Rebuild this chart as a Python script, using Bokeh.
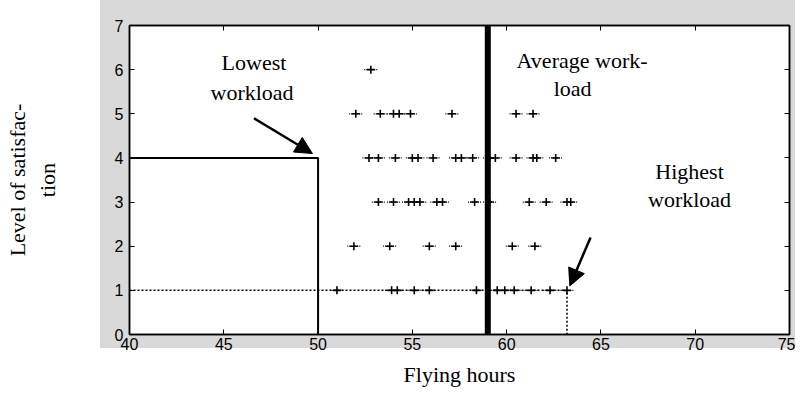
from bokeh.plotting import figure
from bokeh.models import (LinearAxis, FixedTicker, Range1d, Span, Arrow, NormalHead,
                          ColumnDataSource, CustomJSTickFormatter)
from bokeh.core.properties import value
from bokeh.embed import file_html
from bokeh.resources import INLINE

# ---------------- data ----------------
x_ticks = [40, 45, 50, 55, 60, 65, 70, 75]
y_ticks = [0, 1, 2, 3, 4, 5, 6, 7]

level_6_hours = [52.8]
level_5_hours = [52.0, 53.3, 54.0, 54.3, 54.9, 57.1, 60.5, 61.4]
level_4_hours = [52.7, 53.2, 54.1, 55.0, 55.3, 56.1, 57.3, 57.6, 58.2, 59.1, 59.4,
                 60.5, 61.4, 61.6, 62.6]
level_3_hours = [53.2, 54.0, 54.8, 55.1, 55.4, 56.3, 56.6, 58.3, 59.1, 61.2, 62.1,
                 63.2, 63.4]
level_2_hours = [51.9, 53.8, 55.9, 57.3, 60.3, 61.5]
level_1_hours = [51.0, 53.9, 54.2, 55.1, 55.9, 58.4, 59.5, 59.9, 60.4, 61.3, 62.3, 63.2]

average_workload_hours = 59.0
lowest_workload = (50.0, 4)     # (flying hours, satisfaction)
highest_workload = (63.2, 1)

rows = [(6, level_6_hours), (5, level_5_hours), (4, level_4_hours),
        (3, level_3_hours), (2, level_2_hours), (1, level_1_hours)]
hours, levels = [], []
for lv, hs in rows:
    hours += hs
    levels += [lv] * len(hs)

WHISK = 0.35
src = ColumnDataSource(dict(x=hours, y=levels,
                            x0=[h - WHISK for h in hours],
                            x1=[h + WHISK for h in hours]))

GREY = "#d9d9d9"
SERIF = "Liberation Serif"
SANS = "Liberation Sans"

p = figure(width=795, height=389,
           x_range=Range1d(x_ticks[0], x_ticks[-1]),
           y_range=Range1d(y_ticks[0], y_ticks[-1]),
           output_backend="svg", toolbar_location=None,
           min_border_left=129, min_border_right=6,
           min_border_top=25, min_border_bottom=55,
           border_fill_color=None, background_fill_color="white",
           outline_line_color="black", outline_line_width=1.5)
p.grid.visible = False
# grey scanned-paper area around the axes box (behind the transparent canvas border)
p.styles = {"background-color": "white",
            "background-image": f"linear-gradient({GREY}, {GREY})",
            "background-repeat": "no-repeat",
            "background-position": "100px 0px",
            "background-size": "695px 348px"}


def style_main(ax, ticks):
    ax.ticker = FixedTicker(ticks=ticks)
    ax.major_tick_in = 5
    ax.major_tick_out = 0
    ax.minor_tick_line_color = None
    ax.axis_line_width = 1.5
    ax.axis_line_color = "black"
    ax.major_tick_line_color = "black"
    ax.major_label_text_font = SANS
    ax.major_label_text_font_size = "16px"
    ax.major_label_text_color = "black"


xa = p.xaxis[0]
style_main(xa, x_ticks)
xa.major_label_standoff = 3
ya = p.yaxis[0]
style_main(ya, y_ticks)
ya.major_label_standoff = 6

# box axes (top, right) with inward ticks, no labels
for place, ticks in (("above", x_ticks), ("right", y_ticks)):
    ax = LinearAxis(formatter=CustomJSTickFormatter(code="return ''"))
    style_main(ax, ticks)
    ax.major_label_standoff = 0
    p.add_layout(ax, place)


def label_axis(text, standoff):
    return LinearAxis(ticker=FixedTicker(ticks=[]), axis_line_color=None,
                      major_tick_line_color=None, minor_tick_line_color=None,
                      axis_label=text, axis_label_standoff=standoff,
                      axis_label_text_font=SERIF, axis_label_text_font_size="22px",
                      axis_label_text_font_style="normal",
                      axis_label_text_line_height=0.9,
                      axis_label_text_color="black")


p.add_layout(label_axis("tion", 52), "left")
p.add_layout(label_axis("Level of satisfac-", 2), "left")
p.add_layout(label_axis("Flying hours", 9), "below")

# average workload line
p.add_layout(Span(location=average_workload_hours, dimension="height",
                  line_color="black", line_width=6))

# lowest workload guide (solid)
lh, ls = lowest_workload
p.line(x=[x_ticks[0], lh, lh], y=[ls, ls, y_ticks[0]],
       line_color="black", line_width=2)
# highest workload guide (dotted)
hh, hs_ = highest_workload
p.line(x=[x_ticks[0], hh, hh], y=[hs_, hs_, y_ticks[0]],
       line_color="black", line_width=1.5, line_dash="2 2")

# data points: small cross with dotted horizontal whiskers
p.segment(x0="x0", x1="x1", y0="y", y1="y", source=src,
          line_color="black", line_width=1.2, line_dash="1 1")
p.scatter(x="x", y="y", source=src, marker="cross", size=8,
          line_color="black", line_width=1.6)

# arrows
p.add_layout(Arrow(end=NormalHead(size=17, fill_color="black", line_color="black"),
                   x_start=46.6, y_start=4.9, x_end=49.7, y_end=4.1,
                   line_color="black", line_width=2.5))
p.add_layout(Arrow(end=NormalHead(size=17, fill_color="black", line_color="black"),
                   x_start=64.45, y_start=2.2, x_end=63.35, y_end=1.1,
                   line_color="black", line_width=2.5))

# annotation texts
ann = ColumnDataSource(dict(
    x=[46.6, 46.5, 64.0, 63.5, 69.7, 69.7],
    y=[6.17, 5.49, 6.2, 5.58, 3.7, 3.05],
    t=["Lowest", "workload", "Average work-", "load", "Highest", "workload"]))
p.text(x="x", y="y", text="t", source=ann, text_font=value(SERIF),
       text_font_size="22px", text_align="center", text_baseline="middle",
       text_color="black")

open("out.html", "w").write(file_html(p, INLINE))
